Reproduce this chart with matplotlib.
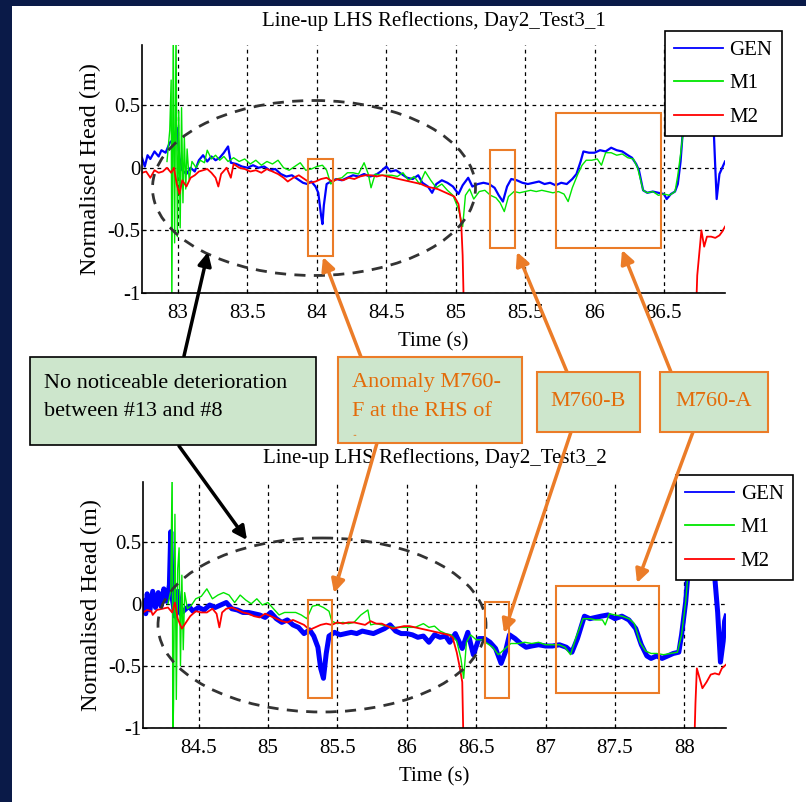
import matplotlib
matplotlib.use("Agg")
import matplotlib.pyplot as plt
from matplotlib.patches import Rectangle, Ellipse

plt.rcParams['font.family'] = ['Liberation Serif', 'DejaVu Serif']
plt.rcParams['axes.unicode_minus'] = False

# ---- Test3_1 traces (time in s, normalised head in m) ----
t_gen1 = [82.74, 82.76, 82.78, 82.80, 82.83, 82.86, 82.88, 82.91, 82.94, 82.97, 82.99, 83.01, 83.03, 83.06,
          83.09, 83.12, 83.15, 83.18, 83.21, 83.24, 83.27, 83.30, 83.33, 83.36, 83.38, 83.42, 83.46, 83.50,
          83.54, 83.58, 83.62, 83.66, 83.70, 83.74, 83.78, 83.82, 83.86, 83.90, 83.93, 83.96, 83.99, 84.01,
          84.03, 84.04, 84.05, 84.07, 84.10, 84.14, 84.18, 84.22, 84.26, 84.30, 84.34, 84.38, 84.42, 84.46,
          84.50, 84.53, 84.57, 84.61, 84.65, 84.69, 84.73, 84.76, 84.80, 84.83, 84.86, 84.90, 84.94, 84.98,
          85.02, 85.05, 85.09, 85.12, 85.16, 85.20, 85.24, 85.28, 85.31, 85.34, 85.37, 85.40, 85.44, 85.48,
          85.52, 85.56, 85.60, 85.64, 85.68, 85.72, 85.76, 85.80, 85.84, 85.87, 85.90, 85.92, 85.96, 86.00,
          86.04, 86.08, 86.12, 86.16, 86.20, 86.24, 86.27, 86.30, 86.32, 86.35, 86.38, 86.42, 86.46, 86.50,
          86.52, 86.55, 86.58, 86.60, 86.62, 86.64, 86.66, 86.84, 86.86, 86.87, 86.88, 86.90, 86.92, 86.94]
gen1 = [0.08, 0.01, 0.10, 0.07, 0.13, 0.09, 0.14, 0.12, 0.20, 0.23, 0.32, 0.08, -0.02, -0.05,
        0.00, -0.03, 0.06, 0.10, 0.05, 0.09, 0.06, 0.08, 0.12, 0.17, 0.04, 0.03, 0.01, 0.00,
        0.02, 0.00, 0.01, -0.02, -0.01, -0.05, -0.07, -0.06, -0.09, -0.12, -0.13, -0.11, -0.15, -0.20,
        -0.38, -0.45, -0.30, -0.13, -0.11, -0.09, -0.10, -0.08, -0.06, -0.07, -0.05, -0.07, -0.06, -0.03,
        0.01, -0.03, -0.02, -0.05, -0.08, -0.09, -0.06, -0.12, -0.15, -0.20, -0.13, -0.10, -0.12, -0.15,
        -0.21, -0.14, -0.08, -0.15, -0.13, -0.12, -0.13, -0.16, -0.22, -0.27, -0.15, -0.09, -0.10, -0.12,
        -0.13, -0.12, -0.11, -0.13, -0.12, -0.14, -0.12, -0.13, -0.09, -0.05, 0.05, 0.13, 0.12, 0.12,
        0.14, 0.13, 0.16, 0.14, 0.13, 0.10, 0.08, 0.03, -0.02, -0.18, -0.20, -0.19, -0.20, -0.21,
        -0.25, -0.21, -0.19, -0.13, 0.05, 0.35, 1.20, 1.20, 0.27, 0.00, -0.25, -0.05, 0.00, 0.05]

t_m1_1 = [82.92, 82.94, 82.95, 82.955, 82.965, 82.975, 82.985, 82.995, 83.005, 83.015, 83.025, 83.035,
          83.045, 83.055, 83.065, 83.08, 83.10, 83.13, 83.16, 83.19, 83.21, 83.24, 83.27, 83.30, 83.33,
          83.36, 83.40, 83.44, 83.48, 83.52, 83.56, 83.60, 83.64, 83.68, 83.72, 83.76, 83.80, 83.84,
          83.88, 83.92, 83.96, 84.00, 84.04, 84.07, 84.10, 84.14, 84.18, 84.22, 84.26, 84.30, 84.34,
          84.37, 84.39, 84.42, 84.46, 84.50, 84.54, 84.58, 84.62, 84.66, 84.70, 84.74, 84.78, 84.82,
          84.86, 84.90, 84.94, 84.98, 85.02, 85.05, 85.07, 85.10, 85.13, 85.17, 85.21, 85.25, 85.29,
          85.32, 85.35, 85.38, 85.42, 85.46, 85.50, 85.54, 85.58, 85.62, 85.66, 85.70, 85.74, 85.78,
          85.81, 85.84, 85.88, 85.91, 85.94, 85.98, 86.02, 86.05, 86.08, 86.12, 86.16, 86.20, 86.24,
          86.28, 86.31, 86.35, 86.38, 86.42, 86.46, 86.50, 86.54, 86.58, 86.60, 86.62, 86.64, 86.66]
m1_1 = [0.05, 0.30, 0.70, -1.10, 1.10, -0.60, 1.10, -0.55, 0.45, -0.48, 0.48, -0.28,
        0.25, -0.17, 0.15, -0.10, 0.05, 0.00, 0.06, 0.04, 0.14, 0.07, 0.10, 0.06, 0.09,
        0.05, 0.08, 0.05, 0.07, 0.03, 0.06, 0.02, 0.05, 0.03, 0.06, 0.00, -0.02, 0.01,
        0.04, -0.02, -0.01, 0.01, 0.02, -0.02, -0.13, -0.09, -0.08, -0.04, -0.04, -0.05, 0.04,
        -0.05, -0.16, -0.05, -0.06, -0.06, -0.06, -0.07, -0.04, -0.10, -0.07, -0.13, -0.03, -0.10,
        -0.16, -0.13, -0.18, -0.22, -0.33, -0.47, -0.22, -0.17, -0.25, -0.19, -0.18, -0.22, -0.24,
        -0.28, -0.35, -0.23, -0.19, -0.20, -0.19, -0.18, -0.19, -0.18, -0.19, -0.20, -0.19, -0.21,
        -0.27, -0.16, -0.05, 0.02, 0.06, 0.06, 0.07, 0.02, 0.12, 0.12, 0.10, 0.11, 0.08,
        0.07, 0.00, -0.18, -0.20, -0.19, -0.22, -0.21, -0.22, -0.19, -0.06, 0.11, 0.30, 1.20]

t_m2_1 = [82.74, 82.77, 82.80, 82.83, 82.86, 82.89, 82.92, 82.95, 82.97, 82.99, 83.01, 83.03, 83.06,
          83.09, 83.12, 83.15, 83.18, 83.21, 83.24, 83.27, 83.29, 83.31, 83.35, 83.38, 83.40, 83.44,
          83.48, 83.52, 83.56, 83.60, 83.64, 83.68, 83.72, 83.76, 83.79, 83.83, 83.87, 83.91, 83.95,
          83.99, 84.03, 84.07, 84.11, 84.15, 84.19, 84.23, 84.27, 84.31, 84.35, 84.39, 84.43, 84.47,
          84.51, 84.55, 84.59, 84.63, 84.67, 84.71, 84.75, 84.79, 84.83, 84.87, 84.91, 84.95, 84.99,
          85.02, 85.04, 85.05, 85.06, 86.73, 86.74, 86.77, 86.79, 86.81, 86.84, 86.87, 86.90, 86.92, 86.94]
m2_1 = [-0.04, -0.03, -0.08, -0.02, -0.04, -0.03, 0.00, -0.04, 0.00, -0.13, -0.21, -0.10, -0.15,
        -0.08, -0.06, -0.03, -0.02, -0.01, -0.04, -0.08, -0.15, -0.05, 0.00, -0.08, 0.03, 0.00,
        -0.01, -0.03, -0.02, -0.04, -0.01, -0.03, -0.05, -0.08, -0.11, -0.08, -0.06, -0.09, -0.12,
        -0.11, -0.09, -0.08, -0.11, -0.09, -0.10, -0.08, -0.09, -0.07, -0.06, -0.06, -0.07, -0.06,
        -0.07, -0.08, -0.09, -0.10, -0.11, -0.12, -0.13, -0.15, -0.16, -0.17, -0.19, -0.21, -0.23,
        -0.29, -0.45, -0.70, -1.20, -1.20, -0.86, -0.50, -0.63, -0.55, -0.55, -0.56, -0.54, -0.51, -0.47]

# ---- Test3_2 traces ----
t_gen2 = [84.10, 84.12, 84.13, 84.15, 84.17, 84.19, 84.21, 84.23, 84.25, 84.27, 84.29, 84.30, 84.31, 84.33,
          84.35, 84.37, 84.40, 84.43, 84.46, 84.50, 84.54, 84.58, 84.62, 84.66, 84.70, 84.74, 84.78, 84.82,
          84.86, 84.90, 84.94, 84.98, 85.02, 85.06, 85.10, 85.14, 85.18, 85.22, 85.26, 85.30, 85.33, 85.36,
          85.38, 85.40, 85.42, 85.44, 85.48, 85.52, 85.56, 85.60, 85.64, 85.68, 85.72, 85.76, 85.80, 85.84,
          85.88, 85.92, 85.96, 86.00, 86.04, 86.08, 86.12, 86.16, 86.20, 86.24, 86.28, 86.31, 86.35, 86.40,
          86.44, 86.48, 86.52, 86.56, 86.60, 86.64, 86.68, 86.71, 86.74, 86.78, 86.82, 86.86, 86.90, 86.95,
          87.00, 87.05, 87.10, 87.15, 87.19, 87.23, 87.28, 87.32, 87.36, 87.40, 87.45, 87.50, 87.55, 87.60,
          87.65, 87.69, 87.73, 87.76, 87.80, 87.84, 87.88, 87.92, 87.96, 87.98, 88.01, 88.03, 88.05, 88.20,
          88.22, 88.24, 88.26, 88.28, 88.29, 88.30]
gen2 = [0.02, -0.08, 0.08, -0.05, 0.10, -0.03, 0.09, -0.02, 0.12, 0.02, 0.15, 0.58, 0.05, -0.10,
        0.10, -0.08, -0.05, -0.02, -0.06, -0.03, -0.05, -0.01, -0.03, -0.01, 0.01, -0.04, -0.05, -0.07,
        -0.07, -0.08, -0.09, -0.11, -0.07, -0.12, -0.15, -0.13, -0.17, -0.19, -0.24, -0.21, -0.26, -0.35,
        -0.52, -0.60, -0.40, -0.26, -0.23, -0.25, -0.24, -0.23, -0.24, -0.22, -0.23, -0.24, -0.22, -0.20,
        -0.17, -0.22, -0.24, -0.24, -0.25, -0.27, -0.26, -0.31, -0.25, -0.27, -0.26, -0.31, -0.24, -0.36,
        -0.23, -0.41, -0.28, -0.28, -0.31, -0.36, -0.48, -0.39, -0.25, -0.28, -0.32, -0.35, -0.34, -0.33,
        -0.34, -0.34, -0.33, -0.35, -0.39, -0.28, -0.10, -0.12, -0.11, -0.10, -0.09, -0.12, -0.10, -0.13,
        -0.20, -0.33, -0.42, -0.44, -0.42, -0.44, -0.42, -0.40, -0.39, -0.25, 0.02, 0.30, 1.20, 1.20,
        0.20, -0.07, -0.47, -0.30, -0.14, -0.10]

t_m1_2 = [84.28, 84.30, 84.31, 84.315, 84.32, 84.33, 84.34, 84.35, 84.36, 84.37, 84.38, 84.39, 84.40,
          84.42, 84.45, 84.48, 84.52, 84.56, 84.60, 84.64, 84.68, 84.72, 84.76, 84.80, 84.84, 84.88,
          84.92, 84.96, 85.00, 85.04, 85.08, 85.12, 85.16, 85.20, 85.24, 85.28, 85.32, 85.36, 85.40,
          85.44, 85.46, 85.50, 85.54, 85.58, 85.62, 85.67, 85.72, 85.74, 85.78, 85.82, 85.86, 85.90,
          85.94, 85.98, 86.02, 86.06, 86.10, 86.12, 86.16, 86.20, 86.24, 86.28, 86.32, 86.36, 86.39,
          86.41, 86.43, 86.46, 86.50, 86.54, 86.58, 86.62, 86.66, 86.70, 86.75, 86.80, 86.85, 86.90,
          86.95, 87.00, 87.05, 87.10, 87.14, 87.18, 87.22, 87.27, 87.32, 87.36, 87.41, 87.43, 87.46,
          87.50, 87.55, 87.60, 87.64, 87.68, 87.72, 87.76, 87.80, 87.85, 87.90, 87.95, 87.98, 88.01,
          88.03, 88.05]
m1_2 = [0.00, 0.10, 1.10, -1.10, -0.80, 0.72, -0.77, 0.28, 0.45, -0.50, 0.23, -0.37, 0.09,
        -0.04, -0.01, 0.04, 0.06, 0.12, 0.04, 0.07, 0.09, 0.07, 0.01, 0.07, 0.03, 0.00,
        0.04, -0.01, 0.01, -0.04, -0.09, -0.07, -0.07, -0.07, -0.09, -0.12, -0.02, -0.01, -0.03,
        -0.06, -0.14, -0.16, -0.15, -0.16, -0.15, -0.09, -0.05, -0.17, -0.16, -0.17, -0.18, -0.19,
        -0.19, -0.19, -0.19, -0.19, -0.17, -0.16, -0.19, -0.18, -0.22, -0.24, -0.25, -0.30, -0.44,
        -0.60, -0.31, -0.25, -0.29, -0.29, -0.32, -0.35, -0.41, -0.37, -0.32, -0.32, -0.31, -0.32,
        -0.31, -0.33, -0.33, -0.33, -0.35, -0.41, -0.27, -0.12, -0.12, -0.13, -0.13, -0.17, -0.08,
        -0.09, -0.10, -0.12, -0.16, -0.31, -0.38, -0.40, -0.40, -0.41, -0.40, -0.39, -0.25, 0.02,
        0.30, 1.20]

t_m2_2 = [84.10, 84.13, 84.16, 84.17, 84.20, 84.24, 84.28, 84.31, 84.33, 84.35, 84.38, 84.41, 84.44,
          84.48, 84.52, 84.56, 84.60, 84.63, 84.65, 84.67, 84.70, 84.74, 84.78, 84.82, 84.86, 84.90,
          84.94, 84.98, 85.02, 85.06, 85.10, 85.14, 85.18, 85.22, 85.26, 85.30, 85.34, 85.38, 85.42,
          85.46, 85.50, 85.54, 85.58, 85.62, 85.66, 85.70, 85.74, 85.78, 85.82, 85.86, 85.90, 85.94,
          85.98, 86.02, 86.06, 86.10, 86.14, 86.18, 86.22, 86.26, 86.30, 86.33, 86.36, 86.38, 86.40,
          86.41, 88.07, 88.08, 88.09, 88.11, 88.13, 88.16, 88.19, 88.22, 88.25, 88.27, 88.30]
m2_2 = [-0.07, -0.05, -0.06, -0.09, -0.05, -0.04, -0.03, -0.07, 0.01, -0.12, -0.20, -0.15, -0.10,
        -0.06, -0.07, -0.07, -0.04, -0.08, -0.19, -0.07, -0.04, -0.03, -0.05, -0.07, -0.08, -0.10,
        -0.11, -0.08, -0.10, -0.12, -0.14, -0.15, -0.13, -0.15, -0.17, -0.21, -0.19, -0.17, -0.16,
        -0.17, -0.15, -0.16, -0.15, -0.15, -0.16, -0.17, -0.14, -0.16, -0.16, -0.18, -0.20, -0.19,
        -0.18, -0.18, -0.19, -0.20, -0.21, -0.22, -0.23, -0.24, -0.25, -0.27, -0.39, -0.50, -0.63,
        -1.20, -1.20, -0.80, -0.52, -0.60, -0.68, -0.63, -0.57, -0.56, -0.57, -0.52, -0.49]

xticks1 = [83, 83.5, 84, 84.5, 85, 85.5, 86, 86.5]
xticks2 = [84.5, 85, 85.5, 86, 86.5, 87, 87.5, 88]
yticks = [-1, -0.5, 0, 0.5]
ytick_labels = ['-1', '-0.5', '0', '0.5']

BLUE, GREEN, RED = '#0000ff', '#00e600', '#ff0000'
ORANGE = '#eb7c28'
ORANGE_TXT = '#e36c0a'
BOX_FILL = '#cde6cc'
NAVY = '#0a1a48'

fig = plt.figure(figsize=(8.06, 8.02), dpi=100)


def panel(rect, xlim, xticks, title, series, gen_lw, legend_anchor, xlabel_y):
    ax = fig.add_axes(rect)
    (tg, g), (t1, m1), (t2, m2) = series
    ax.plot(tg, g, color=BLUE, lw=gen_lw, label='GEN')
    ax.plot(t1, m1, color=GREEN, lw=1.0, label='M1')
    ax.plot(t2, m2, color=RED, lw=1.3, label='M2')
    ax.set_xlim(*xlim)
    ax.set_ylim(-1, 0.98)
    ax.set_xticks(xticks)
    ax.set_xticklabels([('%g' % v) for v in xticks])
    ax.set_yticks(yticks)
    ax.set_yticklabels(ytick_labels)
    ax.grid(True, color='k', lw=0.9, linestyle=(0, (3, 3)))
    ax.set_axisbelow(True)
    for s in ['top', 'right']:
        ax.spines[s].set_visible(False)
    for s in ['left', 'bottom']:
        ax.spines[s].set_linewidth(1.2)
    ax.tick_params(direction='in', length=3, labelsize=15)
    ax.tick_params(axis='x', pad=8)
    ax.tick_params(axis='y', pad=1)
    ax.set_title(title, fontsize=15, pad=14)
    ax.set_xlabel('Time (s)', fontsize=15)
    ax.xaxis.set_label_coords(0.5, xlabel_y)
    ax.set_ylabel('Normalised Head (m)', fontsize=17.5)
    ax.yaxis.set_label_coords(-0.07, 0.5)
    leg = ax.legend(loc='upper right', bbox_to_anchor=legend_anchor, bbox_transform=fig.transFigure,
                    borderaxespad=0, fontsize=15, handlelength=2.35, handletextpad=0.3,
                    labelspacing=0.67, borderpad=0.45,
                    fancybox=False, framealpha=1, edgecolor='k')
    leg.get_frame().set_linewidth(1.2)
    for line in leg.get_lines():
        line.set_linewidth(1.3)
    return ax


panel([142 / 806, 1 - 293 / 802, 583 / 806, 248 / 802], (82.74, 86.94), xticks1,
      'Line-up LHS Reflections, Day2_Test3_1',
      [(t_gen1, gen1), (t_m1_1, m1_1), (t_m2_1, m2_1)], 1.6, (782 / 806, 1 - 31 / 802), -0.16)
panel([143 / 806, 1 - 728 / 802, 583 / 806, 246 / 802], (84.10, 88.30), xticks2,
      'Line-up LHS Reflections, Day2_Test3_2',
      [(t_gen2, gen2), (t_m1_2, m1_2), (t_m2_2, m2_2)], 3.6, (793 / 806, 1 - 475 / 802), -0.16)

# overlay in pixel units for the callouts
ov = fig.add_axes([0, 0, 1, 1])
ov.set_xlim(0, 806)
ov.set_ylim(802, 0)
ov.axis('off')
ov.set_zorder(10)
ov.patch.set_alpha(0)

ov.add_patch(Rectangle((0, 0), 12, 802, color=NAVY, lw=0))
ov.add_patch(Rectangle((0, 0), 806, 6, color=NAVY, lw=0))

# dashed ellipses round the unchanged section
for cx, cy, w, h in [(314, 188, 323, 175), (322, 625, 328, 174)]:
    ov.add_patch(Ellipse((cx, cy), w, h, fill=False, ec='#333333', lw=2.0, ls=(0, (4, 3))))

# orange boxes marking the anomalies
for x0, y0, x1, y1 in [(308, 159, 333, 256), (490, 150, 515, 248), (556, 113, 661, 248),
                       (308, 600, 332, 698), (485, 602, 509, 698), (556, 586, 659, 693)]:
    ov.add_patch(Rectangle((x0, y0), x1 - x0, y1 - y0, fill=False, ec=ORANGE, lw=1.5))

# text boxes
ov.add_patch(Rectangle((30, 357), 286, 88, fc=BOX_FILL, ec='k', lw=1.2, zorder=3))
ov.text(44, 383, 'No noticeable deterioration', fontsize=16, va='center', zorder=4)
ov.text(44, 412, 'between #13 and #8', fontsize=16, va='center', zorder=4)

ov.add_patch(Rectangle((338, 357), 184, 86, fc=BOX_FILL, ec=ORANGE, lw=1.5, zorder=3))
ov.text(352, 383, 'Anomaly M760-', fontsize=16, va='center', color=ORANGE_TXT, zorder=4)
ov.text(352, 412, 'F at the RHS of', fontsize=16, va='center', color=ORANGE_TXT, zorder=4)
ov.text(352, 433, '..', fontsize=7, va='center', color=ORANGE_TXT, zorder=4)

ov.add_patch(Rectangle((537, 372), 103, 60, fc=BOX_FILL, ec=ORANGE, lw=1.5, zorder=3))
ov.text(588, 402, 'M760-B', fontsize=16, ha='center', va='center', color=ORANGE_TXT, zorder=4)
ov.add_patch(Rectangle((660, 372), 108, 60, fc=BOX_FILL, ec=ORANGE, lw=1.5, zorder=3))
ov.text(714, 402, 'M760-A', fontsize=16, ha='center', va='center', color=ORANGE_TXT, zorder=4)

# arrows: (tail, head, colour)
arrows = [((184, 356), (208, 252), 'k'), ((179, 446), (247, 540), 'k'),
          ((361, 357), (323, 257), ORANGE), ((377, 443), (334, 593), ORANGE),
          ((567, 372), (517, 252), ORANGE), ((571, 432), (504, 633), ORANGE),
          ((671, 372), (622, 250), ORANGE), ((693, 432), (637, 583), ORANGE)]
for tail, head, c in arrows:
    ov.annotate('', xy=head, xytext=tail,
                arrowprops=dict(arrowstyle='-|>', color=c, lw=2.5, mutation_scale=20,
                                shrinkA=0, shrinkB=0), zorder=2)

fig.savefig('out.png', dpi=100)
